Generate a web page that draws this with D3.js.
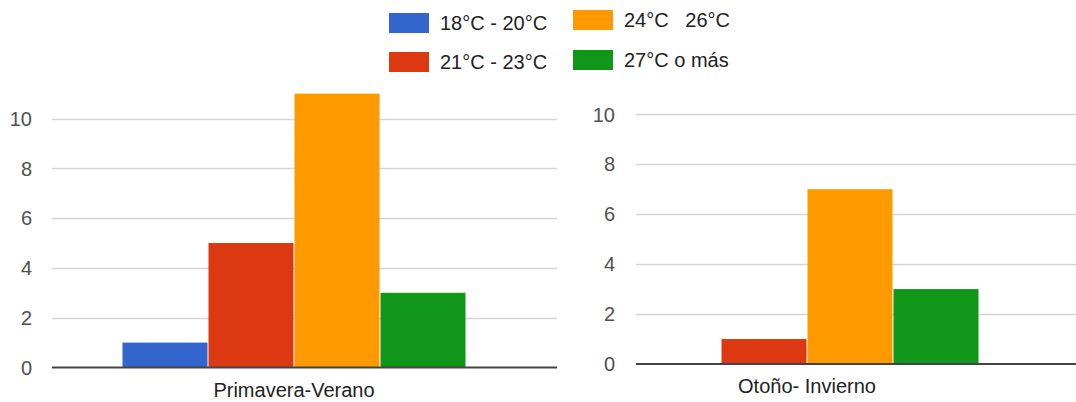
<!DOCTYPE html>
<html>
<head>
<meta charset="utf-8">
<script src="https://cdn.jsdelivr.net/npm/d3@7"></script>
<style>
  html, body { margin: 0; padding: 0; background: #fff; }
  svg { display: block; font-family: "Liberation Sans", Arial, sans-serif; }
  text { white-space: pre; }
</style>
</head>
<body>
<svg id="chart" width="1076" height="402"></svg>
<script>
// Temperature ranges (series) and the two seasons (one panel each)
const seriesNames = ["18°C - 20°C", "21°C - 23°C", "24°C   26°C", "27°C o más"];
const seriesColors = ["#3366cc", "#dc3912", "#ff9900", "#109618"];
const categories = ["Primavera-Verano", "Otoño- Invierno"];
const primaveraVerano = [1, 5, 11, 3];
const otonoInvierno = [0, 1, 7, 3];
const yTicks = [0, 2, 4, 6, 8, 10];

const svg = d3.select("#chart");

// Panel geometry: plot area, bar group extent, baseline
const panels = [
  { name: categories[0], values: primaveraVerano,
    plotX: [52, 557], groupX: [122, 466], y0: 367.5, y10: 118.5, labelX: 32 },
  { name: categories[1], values: otonoInvierno,
    plotX: [636, 1076], groupX: [635, 979], y0: 364, y10: 114.3, labelX: 615 }
];

panels.forEach(p => {
  const g = svg.append("g");
  const y = d3.scaleLinear().domain([0, 10]).range([p.y0, p.y10]);
  const x = d3.scaleBand().domain(d3.range(seriesNames.length))
    .range(p.groupX).paddingInner(0).paddingOuter(0);

  // gridlines
  g.selectAll("line.grid").data(yTicks.filter(t => t !== 0)).join("line")
    .attr("x1", p.plotX[0]).attr("x2", p.plotX[1])
    .attr("y1", d => Math.round(y(d)) + 0.5).attr("y2", d => Math.round(y(d)) + 0.5)
    .attr("stroke", "#d4d4d4").attr("stroke-width", 1.5);

  // tick labels
  g.selectAll("text.tick").data(yTicks).join("text")
    .attr("x", p.labelX).attr("y", d => y(d))
    .attr("dy", "0.36em").attr("text-anchor", "end")
    .attr("font-size", 20).attr("fill", "#505050")
    .text(d => d);

  // bars
  g.selectAll("rect.bar").data(p.values.map((v, i) => ({ v, i }))).join("rect")
    .attr("x", d => x(d.i) + 0.5)
    .attr("width", x.bandwidth() - 1)
    .attr("y", d => y(d.v))
    .attr("height", d => y(0) - y(d.v))
    .attr("fill", d => seriesColors[d.i]);

  // baseline
  g.append("line")
    .attr("x1", p.plotX[0]).attr("x2", p.plotX[1])
    .attr("y1", y(0)).attr("y2", y(0))
    .attr("stroke", "#444").attr("stroke-width", 2);

  // category label
  g.append("text")
    .attr("x", (p.groupX[0] + p.groupX[1]) / 2)
    .attr("y", p.y0 + 29)
    .attr("text-anchor", "middle")
    .attr("font-size", 20).attr("fill", "#222")
    .text(p.name);
});

// Legend: two columns of two entries
const legendPos = [
  { x: 389, y: 13 }, { x: 389, y: 52 },
  { x: 573, y: 10 }, { x: 573, y: 50 }
];
const legend = svg.append("g");
seriesNames.forEach((name, i) => {
  const pos = legendPos[i];
  legend.append("rect")
    .attr("x", pos.x).attr("y", pos.y)
    .attr("width", 40).attr("height", 20)
    .attr("fill", seriesColors[i]);
  legend.append("text")
    .attr("x", pos.x + 51).attr("y", pos.y + 10)
    .attr("dy", "0.36em")
    .attr("font-size", 20).attr("fill", "#222")
    .text(name);
});
</script>
</body>
</html>
